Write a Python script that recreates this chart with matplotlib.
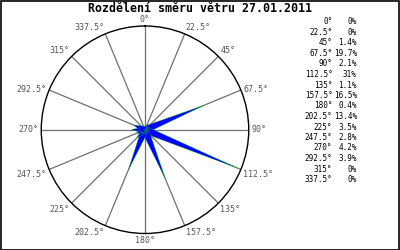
import numpy as np
import matplotlib
matplotlib.use("Agg")
import matplotlib.pyplot as plt
from matplotlib.patches import Rectangle

title = "Rozdělení směru větru 27.01.2011"
directions = [0, 22.5, 45, 67.5, 90, 112.5, 135, 157.5, 180, 202.5, 225, 247.5, 270, 292.5, 315, 337.5]
dir_labels = ["0°", "22.5°", "45°", "67.5°", "90°", "112.5°", "135°", "157.5°",
              "180°", "202.5°", "225°", "247.5°", "270°", "292.5°", "315°", "337.5°"]
percent = [0, 0, 1.4, 19.7, 2.1, 31, 1.1, 16.5, 0.4, 13.4, 3.5, 2.8, 4.2, 3.9, 0, 0]
percent_labels = ["0%", "0%", "1.4%", "19.7%", "2.1%", "31%", "1.1%", "16.5%",
                  "0.4%", "13.4%", "3.5%", "2.8%", "4.2%", "3.9%", "0%", "0%"]

mono = "DejaVu Sans Mono"
fig = plt.figure(figsize=(4, 2.5), dpi=100)
fig.patch.set_facecolor("white")
fig.patches.append(Rectangle((0.0015, 0.002), 0.995, 0.995, transform=fig.transFigure,
                             fill=False, edgecolor="black", linewidth=1.2))

fig.text(0.5, 0.966, title, ha="center", va="center", family=mono,
         fontweight="bold", fontsize=8.4)

ax = fig.add_axes([0.1025, 0.066, 0.52, 0.83], projection="polar")
ax.set_theta_zero_location("N")
ax.set_theta_direction(-1)
rmax = 32
ax.set_ylim(0, rmax)
ax.set_yticks([])
ax.set_xticks(np.deg2rad(directions))
ax.set_xticklabels([])
ax.xaxis.grid(True, color="#707070", linewidth=0.9)
ax.spines["polar"].set_color("black")
ax.spines["polar"].set_linewidth(1.0)

for d, lab in zip(directions, dir_labels):
    t = np.deg2rad(d)
    s, c = np.sin(t), np.cos(t)
    ha = "left" if s > 0.05 else ("right" if s < -0.05 else "center")
    va = "bottom" if c > 0.6 else ("top" if c < -0.2 else "center")
    ax.annotate(lab, xy=(t, rmax), xytext=(1.8 * s, 1.8 * c), textcoords="offset points",
                ha=ha, va=va, family=mono, fontsize=6.0, color="#555555",
                annotation_clip=False)

hw = 1.1
for d, v in zip(directions, percent):
    if v <= 0:
        continue
    t = np.deg2rad(d)
    th = [t - np.pi / 2, t, t + np.pi / 2]
    rr = [hw, v, hw]
    ax.fill(th, rr, facecolor="#0000ff", edgecolor="#00cc00", linewidth=0.25, zorder=3)

y0 = 0.912
dy = 10.5 / 250
for i, (a, p) in enumerate(zip(dir_labels, percent_labels)):
    y = y0 - i * dy
    fig.text(0.831, y, a, ha="right", va="center", family=mono, fontsize=5.5, color="black")
    fig.text(0.892, y, p, ha="right", va="center", family=mono, fontsize=5.5, color="black")

fig.savefig("out.png", dpi=100, facecolor="white")
